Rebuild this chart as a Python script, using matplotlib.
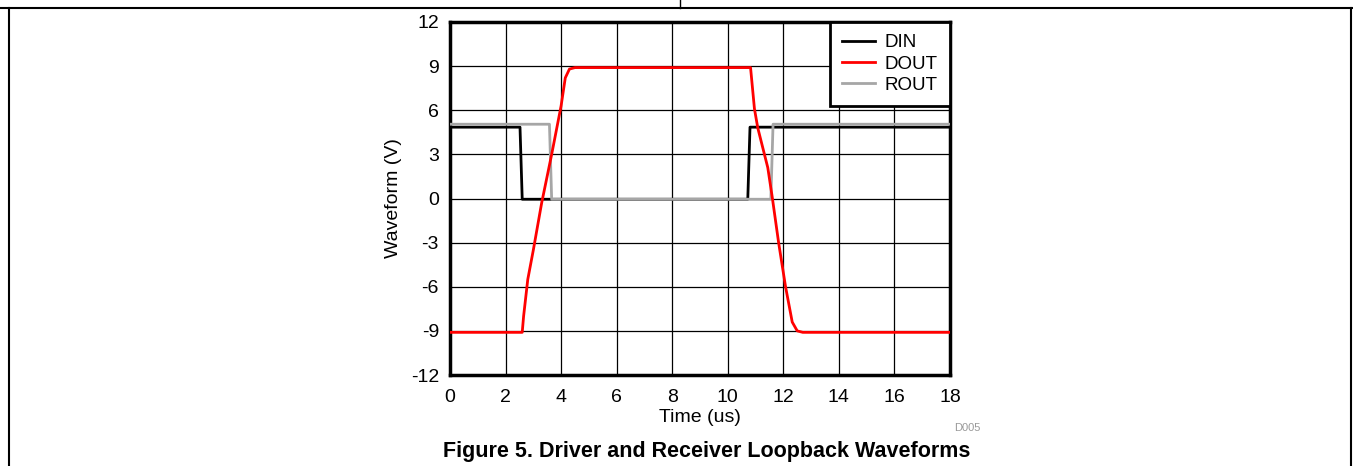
import matplotlib.pyplot as plt
from matplotlib.lines import Line2D

plt.rcParams["font.family"] = ["Liberation Sans", "DejaVu Sans"]
plt.rcParams["axes.unicode_minus"] = False

# breakpoints (time in us, volts)
din_t = [0, 2.52, 2.6, 10.72, 10.8, 18]
din_v = [4.85, 4.85, -0.05, -0.05, 4.85, 4.85]

rout_t = [0, 3.58, 3.66, 11.55, 11.63, 18]
rout_v = [5.05, 5.05, -0.05, -0.05, 5.05, 5.05]

dout_t = [0, 2.6, 2.65, 2.8, 3.0, 3.3, 3.66, 4.0, 4.15, 4.3, 4.5,
          10.82, 10.96, 11.08, 11.26, 11.44, 11.6, 11.83, 12.08, 12.32, 12.5, 12.7, 18]
dout_v = [-9.1, -9.1, -8.0, -5.5, -3.5, -0.3, 3.0, 6.3, 8.2, 8.8, 8.9,
          8.9, 6.1, 4.8, 3.45, 2.1, 0.1, -3.0, -6.0, -8.4, -9.0, -9.1, -9.1]

xticks = list(range(0, 19, 2))
yticks = list(range(-12, 13, 3))

fig = plt.figure(figsize=(13.53, 4.66), dpi=100)

# page frame lines
frame = fig.add_axes([0, 0, 1, 1], zorder=-1)
frame.set_xlim(0, 1353)
frame.set_ylim(466, 0)
frame.axis("off")
frame.add_line(Line2D([0, 1353], [8, 8], color="black", lw=1.5))
frame.add_line(Line2D([8.5, 8.5], [8, 466], color="black", lw=1.5))
frame.add_line(Line2D([1351, 1351], [8, 466], color="black", lw=1.5))
frame.add_line(Line2D([680, 680], [0, 8], color="black", lw=1))

ax = fig.add_axes([450 / 1353, 1 - 375 / 466, 500 / 1353, 353 / 466])
ax.plot(din_t, din_v, color="black", lw=2, label="DIN", zorder=3)
ax.plot(dout_t, dout_v, color="#ff0000", lw=2, label="DOUT", zorder=4)
ax.plot(rout_t, rout_v, color="#a6a6a6", lw=2, label="ROUT", zorder=3)

ax.set_xlim(0, 18)
ax.set_ylim(-12, 12)
ax.set_xticks(xticks)
ax.set_yticks(yticks)
ax.tick_params(axis="x", length=0, labelsize=14, pad=10)
ax.tick_params(axis="y", length=0, labelsize=14, pad=8)
ax.grid(True, color="black", lw=0.9)
for s in ax.spines.values():
    s.set_linewidth(2.5)
ax.set_xlabel("Time (us)", fontsize=14, labelpad=2)
ax.set_ylabel("Waveform (V)", fontsize=14, labelpad=6)

leg = ax.legend(loc="upper right", fontsize=13.5, fancybox=False, framealpha=1,
                borderaxespad=0, handlelength=1.75, labelspacing=0.22,
                borderpad=0.65, handletextpad=0.55)
leg.get_frame().set_edgecolor("black")
leg.get_frame().set_linewidth(2)

fig.text(980 / 1353, 1 - 428 / 466, "D005", fontsize=8, color="#999999",
         ha="right", va="center")
fig.text(707 / 1353, 1 - 452 / 466, "Figure 5. Driver and Receiver Loopback Waveforms",
         fontsize=15.5, fontweight="bold", ha="center", va="center")

fig.savefig("out.png", dpi=100)
